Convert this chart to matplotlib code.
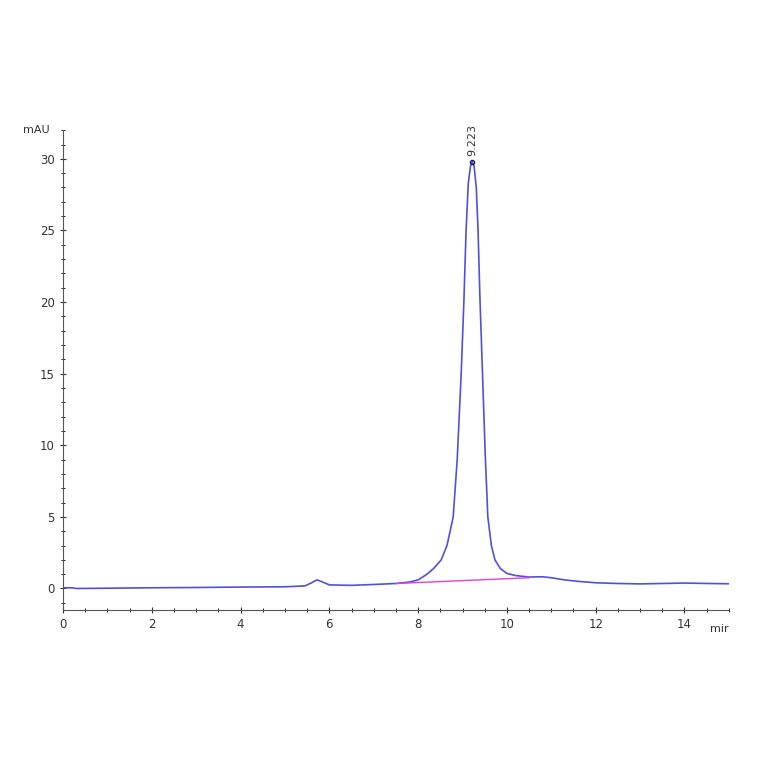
import matplotlib.pyplot as plt
from matplotlib.ticker import MultipleLocator

# Chromatogram trace
time_min = [0.0, 0.2, 0.3, 1.0, 2.0, 3.0, 4.0, 5.0, 5.45, 5.6, 5.72, 5.85, 6.0, 6.5, 7.0, 7.5,
            7.8, 8.0, 8.2, 8.35, 8.52, 8.65, 8.79, 8.88, 8.97, 9.03, 9.08, 9.13, 9.18, 9.22,
            9.26, 9.31, 9.35, 9.39, 9.45, 9.51, 9.57, 9.65, 9.73, 9.85, 10.0, 10.2, 10.5,
            10.8, 11.0, 11.3, 11.6, 12.0, 12.5, 13.0, 13.5, 14.0, 14.5, 15.0]
signal_mau = [0.05, 0.05, 0.0, 0.02, 0.05, 0.07, 0.1, 0.12, 0.18, 0.4, 0.6, 0.45, 0.25, 0.22, 0.28, 0.35,
              0.45, 0.6, 1.0, 1.4, 2.0, 3.0, 5.0, 9.0, 15.0, 20.0, 25.0, 28.3, 29.5, 29.8,
              29.5, 28.0, 25.0, 20.5, 15.0, 9.5, 5.0, 3.0, 2.0, 1.4, 1.05, 0.9, 0.8,
              0.82, 0.75, 0.6, 0.5, 0.4, 0.35, 0.32, 0.35, 0.38, 0.35, 0.33]

baseline_t = [7.5, 10.5]
baseline_y = [0.35, 0.75]

peak_rt = 9.223
peak_h = 29.8

fig = plt.figure(figsize=(7.64, 7.64), dpi=100)
ax = fig.add_axes([0.0825, 0.2016, 0.8715, 0.628])

ax.plot(time_min, signal_mau, color='#5050e0', lw=1.2)
ax.plot(baseline_t, baseline_y, color='#e040e0', lw=1.0)
ax.plot([peak_rt], [peak_h], marker='o', ms=3, mfc='none', mec='#202050')
ax.text(peak_rt, peak_h + 0.4, '9.223', rotation=90, ha='center', va='bottom', fontsize=8, color='#333333')

ax.set_xlim(0, 15)
ax.set_ylim(-1.5, 32)
ax.xaxis.set_major_locator(MultipleLocator(2))
ax.xaxis.set_minor_locator(MultipleLocator(0.5))
ax.yaxis.set_major_locator(MultipleLocator(5))
ax.yaxis.set_minor_locator(MultipleLocator(1))
ax.tick_params(labelsize=8.5, colors='#333333', direction='inout', length=5)
ax.tick_params(which='minor', direction='inout', length=3)
for s in ['top', 'right']:
    ax.spines[s].set_visible(False)
ax.spines['left'].set_color('#555555')
ax.spines['bottom'].set_color('#555555')
ax.text(-0.02, 1.0, 'mAU', transform=ax.transAxes, ha='right', va='center', fontsize=8, color='#333333')
ax.text(1.0, -0.03, 'mir', transform=ax.transAxes, ha='right', va='top', fontsize=8, color='#333333')

plt.savefig('out.png', dpi=100)
